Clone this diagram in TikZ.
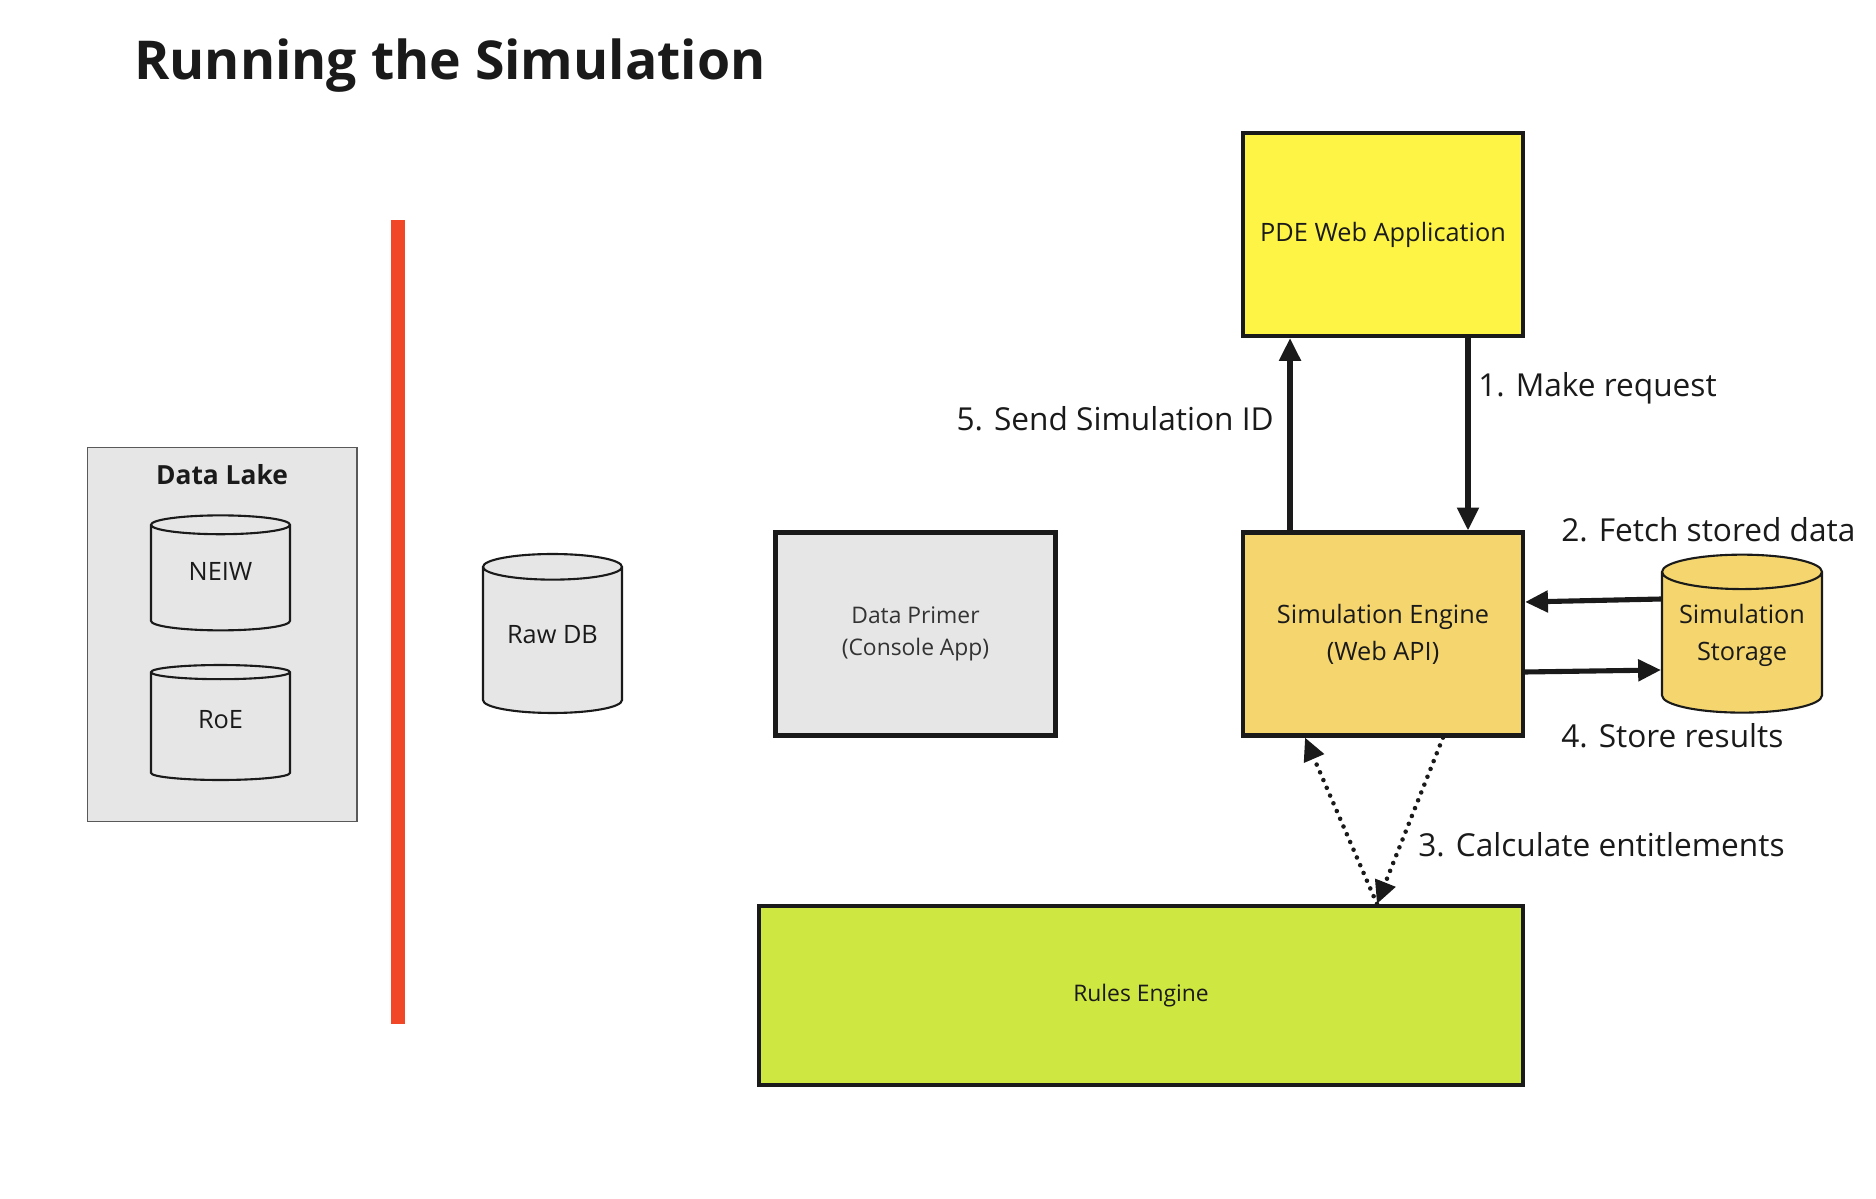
\documentclass[tikz,border=0pt]{standalone}
\usepackage{fontspec}
\setmainfont{Open Sans}
\usetikzlibrary{shapes.geometric,arrows.meta}

\definecolor{pdeyellow}{HTML}{FEF445}
\definecolor{engorange}{HTML}{F5D66E}
\definecolor{rulesgreen}{HTML}{CEE741}
\definecolor{boxgray}{HTML}{E6E6E6}
\definecolor{wallred}{HTML}{F24726}
\definecolor{inkdark}{HTML}{1A1A1A}

\tikzset{
  appbox/.style={draw=inkdark, line width=2.4pt, minimum width=5.6cm, minimum height=4.06cm,
    align=center, text=inkdark, font=\fontsize{14.4}{21}\selectfont},
  dbcyl/.style={cylinder, shape border rotate=90, aspect=.25, draw=inkdark, line width=1.2pt,
    fill=boxgray, minimum width=2.78cm, text depth=.36cm, align=center, text=inkdark,
    font=\fontsize{14.4}{21}\selectfont},
  steplabel/.style={inner sep=0pt, text=inkdark, font=\fontsize{18}{22}\selectfont},
  arr/.style={-{Triangle[length=13pt,width=12pt]}, line width=2.9pt, draw=inkdark},
  dotarr/.style={arr, line width=2.6pt, line cap=round, dash pattern=on 0pt off 4.8pt}
}

\begin{document}
\begin{tikzpicture}[x=0.02cm,y=-0.02cm]
\useasboundingbox (0,0) rectangle (1876,1199);

\node[anchor=base west, inner sep=0pt, text=inkdark, font=\bfseries\fontsize{30.5}{36}\selectfont] (title) at (134,80) {Running the Simulation};

% data lake
\node[draw=black!65, fill=boxgray, line width=.6pt, minimum width=5.4cm, minimum height=7.5cm] (lake) at (222,634.5) {};
\node[text=inkdark, font=\bfseries\fontsize{15}{18}\selectfont] (lakelbl) at (222,475) {Data Lake};
\node[dbcyl, minimum height=2.3cm] (neiw) at (220.5,580) {NEIW};
\node[dbcyl, minimum height=2.3cm] (roe) at (220.5,728) {RoE};

\coordinate (walltop) at (398,220);
\coordinate (wallbot) at (398,1024);
\draw[wallred, line width=8.5pt] (walltop) -- (wallbot);

\node[dbcyl, minimum height=3.18cm] (rawdb) at (552.5,643) {Raw DB};

\node[appbox, fill=boxgray, text=black!80, font=\fontsize{13}{18.2}\selectfont] (primer) at (915.5,634) {Data Primer\\(Console App)};

\node[appbox, fill=pdeyellow] (pde) at (1383,234.5) {PDE Web Application};
\node[appbox, fill=engorange] (simeng) at (1383,634) {Simulation Engine\\(Web API)};
\node[dbcyl, fill=engorange, minimum width=3.2cm, minimum height=3.16cm, text depth=.55cm] (storage) at (1742,646) {Simulation\\Storage};

\node[appbox, fill=rulesgreen, minimum width=15.28cm, minimum height=3.58cm, font=\fontsize{13}{18}\selectfont] (rules) at (1141,995.5) {Rules Engine};

% requests
\draw[arr] ([xshift=1.7cm]pde.south) -- ([xshift=1.7cm]simeng.north);
\draw[arr] ([xshift=-1.86cm]simeng.north) -- ([xshift=-1.86cm]pde.south);
\draw[arr] ([yshift=.94cm]storage.west) -- ([yshift=.64cm]simeng.east);
\draw[arr] ([yshift=-.76cm]simeng.east) -- ([yshift=-.48cm]storage.west);
\draw[dotarr] ([xshift=4.72cm]rules.north) -- ([xshift=-1.56cm]simeng.south);
\draw[dotarr] ([xshift=1.2cm]simeng.south) -- ([xshift=4.72cm]rules.north);

\node[steplabel, anchor=west] (lblreq) at (1478,388) {1. Make request};
\node[steplabel, anchor=east] (lblsend) at (1274,419) {5. Send Simulation ID};
\node[steplabel, anchor=west] (lblfetch) at (1561,530) {2. Fetch stored data};
\node[steplabel, anchor=west] (lblstore) at (1561,736) {4. Store results};
\node[steplabel, anchor=west] (lblcalc) at (1418,845) {3. Calculate entitlements};

\end{tikzpicture}
\end{document}
